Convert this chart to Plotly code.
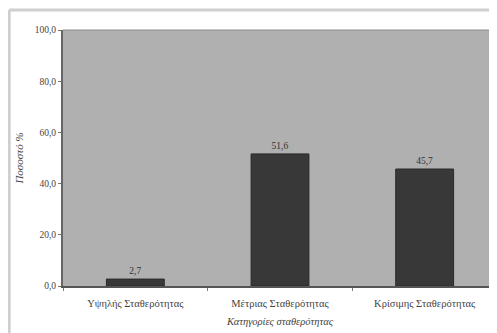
import plotly.graph_objects as go

categories = ["Υψηλής Σταθερότητας", "Μέτριας Σταθερότητας", "Κρίσιμης Σταθερότητας"]
values = [2.7, 51.6, 45.7]
y_ticks = [0, 20, 40, 60, 80, 100]
y_tick_labels = ["0,0", "20,0", "40,0", "60,0", "80,0", "100,0"]
value_labels = [f"{v:.1f}".replace(".", ",") for v in values]

FONT = "Liberation Serif"

fig = go.Figure()
fig.add_trace(go.Bar(
    x=categories, y=values,
    marker=dict(color="#383838", line=dict(color="#2a2a2a", width=1)),
    text=value_labels, textposition="outside",
    textfont=dict(family=FONT, size=9.5, color="#333"),
    cliponaxis=False,
    width=0.4,
))

fig.update_layout(
    width=489, height=325,
    margin=dict(l=55, r=0, t=22, b=47),
    paper_bgcolor="white",
    plot_bgcolor="#b0b0b0",
    showlegend=False,
    font=dict(family=FONT, size=9, color="#444"),
    xaxis=dict(
        showline=True, linecolor="#555", linewidth=2,
        ticks="outside", ticklen=3, tickcolor="#777",
        tickson="boundaries",
        ticklabelstandoff=6,
        tickfont=dict(family=FONT, size=10.5, color="#444"),
        title=dict(text="<i>Κατηγορίες σταθερότητας</i>", font=dict(family=FONT, size=10.5, color="#444"), standoff=10),
        showgrid=False,
    ),
    yaxis=dict(
        range=[0, 100], tickvals=y_ticks, ticktext=y_tick_labels,
        showline=True, linecolor="#666", linewidth=2,
        ticks="outside", ticklen=3, tickcolor="#777",
        tickfont=dict(family=FONT, size=9.5, color="#444"),
        showgrid=False, zeroline=False,
        title=dict(text="<i>Ποσοστό %</i>", font=dict(family=FONT, size=11, color="#444"), standoff=9),
    ),
)

# top border of plot area
fig.add_shape(type="line", xref="paper", yref="paper", x0=0, x1=1, y0=1, y1=1,
              line=dict(color="#8a8a8a", width=1))
# outer chart border (light gray)
fig.add_shape(type="line", xref="paper", yref="paper", x0=-0.124, x1=-0.124, y0=-0.2, y1=1.078,
              line=dict(color="#cfcfcf", width=3))
fig.add_shape(type="line", xref="paper", yref="paper", x0=-0.124, x1=1.1, y0=1.078, y1=1.078,
              line=dict(color="#cfcfcf", width=3))

fig.write_html("out.html")
